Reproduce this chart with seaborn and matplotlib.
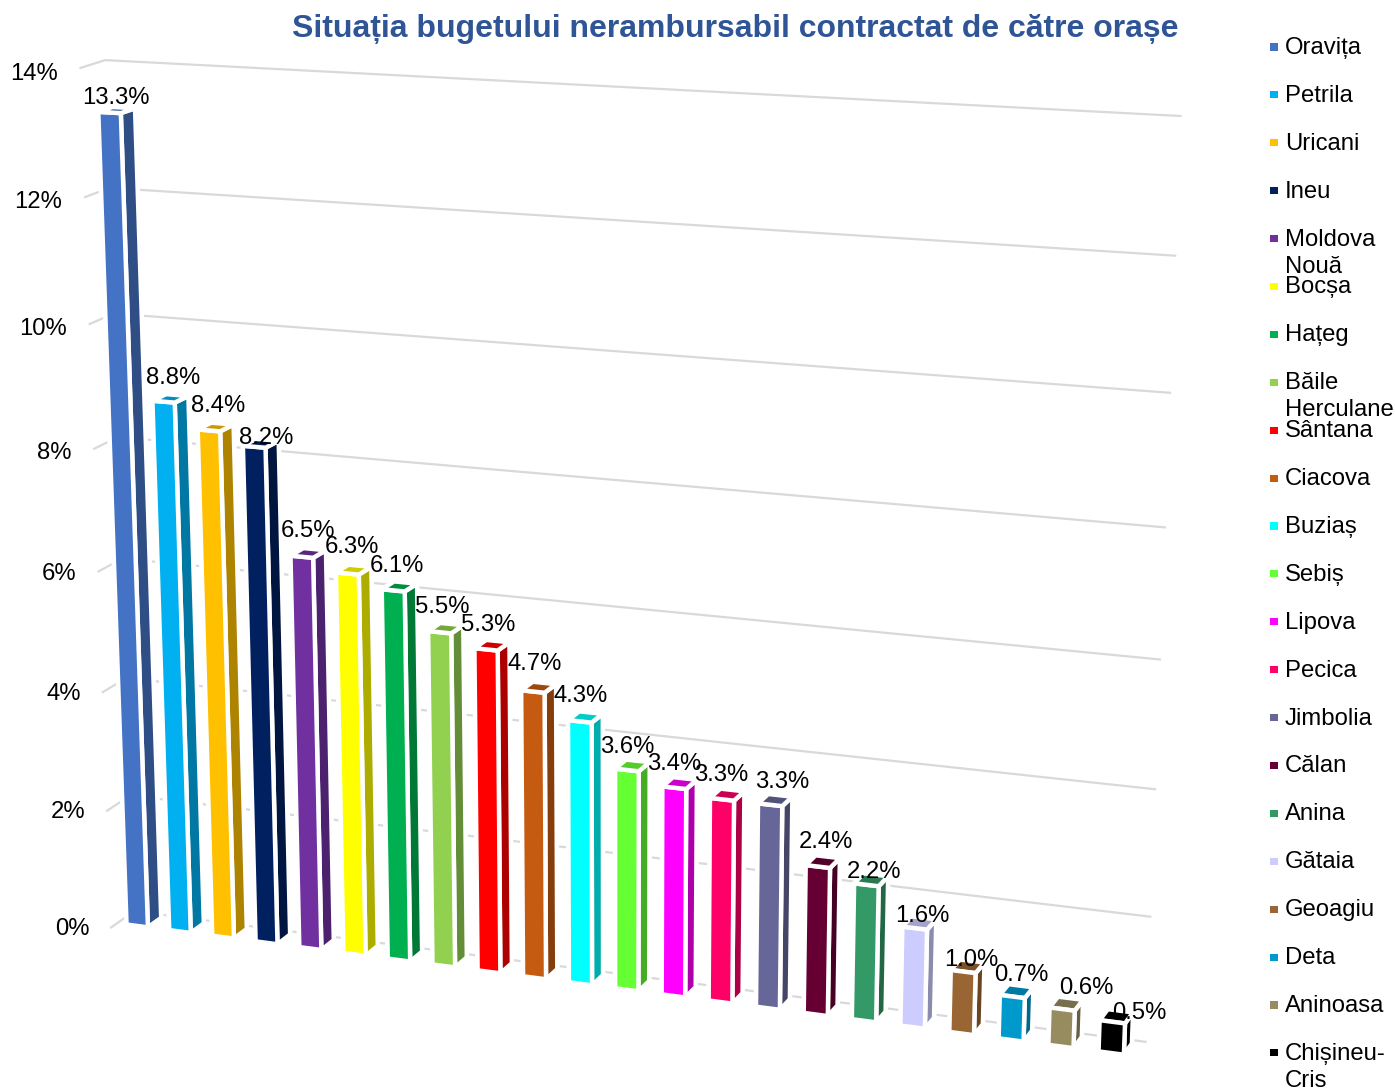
import numpy as np
import seaborn as sns
import matplotlib
matplotlib.use('Agg')
import matplotlib.pyplot as plt
from matplotlib.colors import to_rgb
from matplotlib.transforms import Affine2D
from mpl_toolkits.mplot3d.art3d import Line3DCollection

# Chart data
cities = ['Oravița', 'Petrila', 'Uricani', 'Ineu', 'Moldova\nNouă', 'Bocșa', 'Hațeg',
          'Băile\nHerculane', 'Sântana', 'Ciacova', 'Buziaș', 'Sebiș', 'Lipova', 'Pecica',
          'Jimbolia', 'Călan', 'Anina', 'Gătaia', 'Geoagiu', 'Deta', 'Aninoasa', 'Chișineu-\nCris']
values = [13.3, 8.8, 8.4, 8.2, 6.5, 6.3, 6.1, 5.5, 5.3, 4.7, 4.3, 3.6, 3.4, 3.3, 3.3,
          2.4, 2.2, 1.6, 1.0, 0.7, 0.6, 0.5]
colors = ['#4472C4', '#00B0F0', '#FFC000', '#002060', '#7030A0', '#FFFF00', '#00B050',
          '#92D050', '#FF0000', '#C55A11', '#00FFFF', '#66FF33', '#FF00FF', '#FF0066',
          '#666699', '#660033', '#339966', '#CCCCFF', '#996633', '#0099CC', '#968C5F', '#000000']
ticks = [0, 2, 4, 6, 8, 10, 12, 14]

# Label offsets in pixels from the top of each bar
label_dx = [6, 10, 9, 12, 6, 5, 4, 3, 2, 2, 1, 0, 0, -1, 12, 8, 8, 8, 8, 9, 24, 27]
label_dy = [-15, -24, -24, -9, -26, -27, -24, -25, -24, -28, -25, -23, -24, -24, -23,
            -25, -13, -12, -12, -22, -21, -9]
tick_dy = [-10.5, -10, -8.5, -7.5, -5, -3, -2.5, 0.5]

sns.set_theme(style='white')
plt.rcParams['font.family'] = ['Liberation Sans', 'DejaVu Sans']
FS = 17.2

W, H = 1395, 1089
fig = plt.figure(figsize=(W / 100, H / 100), dpi=100)
ax = fig.add_axes([0, 0, 1, 1], projection='3d', computed_zorder=False)
ax.set_axis_off()

# Camera: homography of the back wall plus a vanishing point for the depth axis
s0, pitch = 0.0129, 0.04545   # first bar and bar spacing along the wall
d_front, d_step = -0.0092, 0.0060
vp_x, vp_y = 2344, -650
g, h = -0.08425, -0.05674
a, b, c = 915.37, -35.01, 135
d, e, f = 42.96, -853.0, 908.5
M = np.array([
    [a * pitch, vp_x * d_step, b / 14, c + a * s0 + vp_x * d_front],
    [d * pitch, vp_y * d_step, e / 14, f + d * s0 + vp_y * d_front],
    [0, 0, 0, -1],
    [g * pitch, d_step, h / 14, 1 + g * s0 + d_front],
])
ax.get_proj = lambda: M
ax.apply_aspect = lambda position=None: None
ax.transData = Affine2D().scale(1, -1).translate(0, H)  # camera gives pixels from top left


def to_px(x, y, z):
    p = M @ np.array([x, y, z, 1.0])
    return p[0] / p[3], p[1] / p[3]


wall_y = -d_front / d_step - 0.25
wall_x0 = -s0 / pitch + 0.06
wall_x1 = (1 - s0) / pitch + 0.03
bar_w = 0.0228 / pitch

# Grid on the wall and the small ticks in front of it
segs = []
for t in ticks:
    segs.append([(wall_x0, wall_y, t), (wall_x1, wall_y, t)])
    segs.append([(wall_x0, wall_y, t), (wall_x0, wall_y - 1.78, t)])
grid = Line3DCollection(segs, colors='#D9D9D9', linewidths=1.6, zorder=1)
ax.add_collection3d(grid, autolim=False)

# Bars, faces in the order bar3d uses: bottom, top, front, back, left, right
for i, (val, col) in enumerate(zip(values, colors)):
    rgb = np.array(to_rgb(col))
    faces = [col, tuple(rgb * 0.8), col, col, col, tuple(rgb * 0.68)]
    ax.bar3d(i, 0, 0, bar_w, 1, val, color=faces, shade=False, edgecolor='white',
             linewidth=3.2, zorder=2 + i * 0.01)

fig.text(735 / W, 1 - 29 / H, 'Situația bugetului nerambursabil contractat de către orașe',
         ha='center', va='center', fontsize=23.05, fontweight='bold', color='#2F5597')

# Overlay in pixel units for the texts and the legend column
lax = fig.add_axes([0, 0, 1, 1])
lax.set_xlim(0, W)
lax.set_ylim(H, 0)
lax.axis('off')

for t, dy in zip(ticks, tick_dy):
    px, py = to_px(wall_x0, wall_y - 3.0, t)
    lax.text(px - 4, py + dy, f'{t}%', ha='right', va='center', fontsize=FS, color='black')

for i, val in enumerate(values):
    px, py = to_px(i + bar_w / 2, 0, val)
    lax.text(px + label_dx[i], py + label_dy[i], f'{val}%', ha='center', va='center',
             fontsize=FS, color='black')

rows = 47 + 47.9 * np.arange(len(cities))
sns.scatterplot(x=np.full(len(cities), 1274), y=rows, hue=cities, palette=colors,
                marker='s', s=26, linewidth=0, legend=False, ax=lax)
for name, row in zip(cities, rows):
    for j, part in enumerate(name.split('\n')):
        lax.text(1285, row + 1 + j * 27, part, ha='left', va='center', fontsize=FS, color='black')

fig.savefig('out.png', dpi=100)
